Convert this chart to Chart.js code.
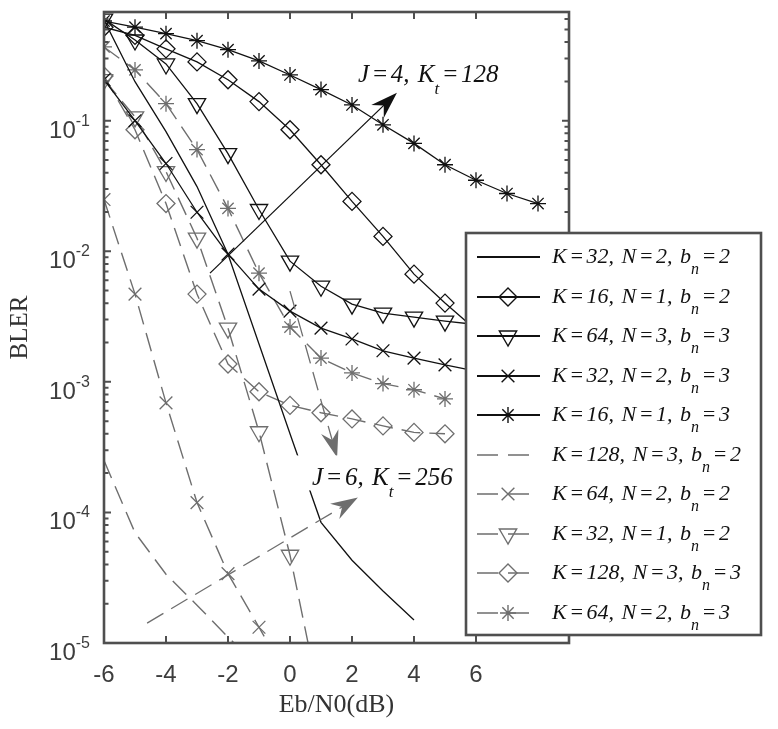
<!DOCTYPE html>
<html><head><meta charset="utf-8">
<script src="https://cdn.jsdelivr.net/npm/chart.js@4.4.0/dist/chart.umd.min.js"></script>
<style>html,body{margin:0;padding:0;background:#fff;}canvas{display:block;}</style>
</head><body>
<canvas id="c" width="778" height="729"></canvas>
<script>
// ---------- data (Eb/N0 in dB, BLER) ----------
const ebn0_K32N2b2 = [-6,-5,-4,-3,-2,-1,0,1,2,3,4];
const bler_K32N2b2 = [0.59,0.199,0.0824,0.0313,0.0095,0.00195,0.0004,8.4e-5,4.3e-5,2.5e-5,1.5e-5];

const ebn0_K16N1b2 = [-6,-5,-4,-3,-2,-1,0,1,2,3,4,5,6];
const bler_K16N1b2 = [0.52,0.45,0.355,0.282,0.206,0.140,0.0853,0.046,0.0241,0.0130,0.00668,0.00401,0.0025];

const ebn0_K64N3b3 = [-6,-5,-4,-3,-2,-1,0,1,2,3,4,5,6];
const bler_K64N3b3 = [0.60,0.415,0.272,0.135,0.056,0.0209,0.0084,0.0054,0.00394,0.00336,0.00313,0.00292,0.00275];

const ebn0_K32N2b3 = [-6,-5,-4,-3,-2,-1,0,1,2,3,4,5,6];
const bler_K32N2b3 = [0.206,0.10,0.047,0.0199,0.0095,0.00513,0.00348,0.00258,0.00213,0.00173,0.00152,0.00135,0.00121];

const ebn0_K16N1b3 = [-6,-5,-4,-3,-2,-1,0,1,2,3,4,5,6,7,8];
const bler_K16N1b3 = [0.58,0.52,0.464,0.41,0.35,0.287,0.224,0.173,0.132,0.093,0.067,0.046,0.035,0.0277,0.0232];

const ebn0_K128N3b2 = [-6,-5,-4,-3,-2,-1];
const bler_K128N3b2 = [2.5e-4,7.0e-5,3.36e-5,1.95e-5,1.11e-5,6.5e-6];

const ebn0_K64N2b2 = [-6,-5,-4,-3,-2,-1,0];
const bler_K64N2b2 = [0.0249,0.0047,0.00069,1.19e-4,3.4e-5,1.32e-5,5e-6];

const ebn0_K32N1b2 = [-6,-5,-4,-3,-2,-1,0,1];
const bler_K32N1b2 = [0.206,0.107,0.0408,0.0126,0.00258,0.000415,4.7e-5,3.3e-6];

const ebn0_K128N3b3 = [-6,-5,-4,-3,-2,-1,0,1,2,3,4,5];
const bler_K128N3b3 = [0.22,0.0853,0.0232,0.0047,0.00137,0.00084,0.00066,0.00058,0.00052,0.00046,0.00041,0.0004];

const ebn0_K64N2b3 = [-6,-5,-4,-3,-2,-1,0,1,2,3,4,5];
const bler_K64N2b3 = [0.367,0.245,0.135,0.0601,0.0213,0.0068,0.00263,0.00152,0.00117,0.00097,0.00087,0.00074];

const legendLabels = ['K=32, N=2, b_n=2','K=16, N=1, b_n=2','K=64, N=3, b_n=3','K=32, N=2, b_n=3','K=16, N=1, b_n=3',
                      'K=128, N=3, b_n=2','K=64, N=2, b_n=2','K=32, N=1, b_n=2','K=128, N=3, b_n=3','K=64, N=2, b_n=3'];
const xTicks = [-6,-4,-2,0,2,4,6];
const yTickExps = [-5,-4,-3,-2,-1];
const xTitle = 'Eb/N0(dB)';
const yTitle = 'BLER';
// annotations in data units
const annotations = [
  {text:'J=4, K_t=128', x:2.19, y:0.199, color:'#111', bg:false},
  {text:'J=6, K_t=256', x:0.71, y:1.61e-4, color:'#111', bg:true}
];
const arrows = [
  {x1:-2.58, y1:6.8e-3, x2:3.45, y2:0.164, color:'#111', dashed:false},
  {x1:-4.61, y1:1.42e-5, x2:2.19, y2:1.30e-4, color:'#6e6e6e', dashed:true},
  {x1:0.0, y1:4.95e-3, x2:1.52, y2:2.63e-4, color:'#6e6e6e', dashed:true}
];

// ---------- styles ----------
const BLACK = '#111111', GRAY = '#6e6e6e';
const DASH = [19,9];
function ds(i, xs, ys, color, style, radius, rotation, dashed){
  return {
    label: legendLabels[i],
    data: xs.map((x,k)=>({x:x, y:ys[k]})),
    borderColor: color, borderWidth: dashed?1.4:1.3,
    borderDash: dashed?DASH:[],
    pointStyle: style || 'circle', pointRadius: style?radius:0, pointHoverRadius: 0,
    pointRotation: rotation||0,
    pointBorderColor: color, pointBackgroundColor: 'rgba(0,0,0,0)', pointBorderWidth: 1.3,
    fill:false, tension:0, showLine:true, order: i
  };
}
const datasets = [
  ds(0, ebn0_K32N2b2, bler_K32N2b2, BLACK, null, 0, 0, false),
  ds(1, ebn0_K16N1b2, bler_K16N1b2, BLACK, 'rectRot', 9, 0, false),
  ds(2, ebn0_K64N3b3, bler_K64N3b3, BLACK, 'triangle', 10, 180, false),
  ds(3, ebn0_K32N2b3, bler_K32N2b3, BLACK, 'crossRot', 9, 0, false),
  ds(4, ebn0_K16N1b3, bler_K16N1b3, BLACK, 'star', 8, 0, false),
  ds(5, ebn0_K128N3b2, bler_K128N3b2, GRAY, null, 0, 0, true),
  ds(6, ebn0_K64N2b2, bler_K64N2b2, GRAY, 'crossRot', 9, 0, true),
  ds(7, ebn0_K32N1b2, bler_K32N1b2, GRAY, 'triangle', 10, 180, true),
  ds(8, ebn0_K128N3b3, bler_K128N3b3, GRAY, 'rectRot', 9, 0, true),
  ds(9, ebn0_K64N2b3, bler_K64N2b3, GRAY, 'star', 8, 0, true)
];

// ---------- helpers ----------
const SERIF = '"Liberation Serif","Times New Roman",serif';
const SANS = '"Liberation Sans",Arial,Helvetica,sans-serif';
function parseRich(t){
  const i = t.indexOf('_');
  if (i<0) return [{s:t}];
  return [{s:t.slice(0,i)},{s:t[i+1],sub:true},{s:t.slice(i+2)}];
}
function drawRich(ctx, x, y, text, size, subSize, subDy, eqPad, spPad){
  const parts = parseRich(text);
  let cx = x;
  for (const p of parts){
    if (p.sub){
      ctx.font = 'italic '+subSize+'px '+SERIF;
      ctx.fillText(p.s, cx, y+subDy);
      cx += ctx.measureText(p.s).width;
    } else {
      ctx.font = 'italic '+size+'px '+SERIF;
      for (const ch of p.s){
        if (ch==='=') cx += eqPad;
        ctx.fillText(ch, cx, y);
        cx += ctx.measureText(ch).width;
        if (ch==='=') cx += eqPad;
        if (ch===' ') cx += spPad;
      }
    }
  }
  return cx;
}
function arrowDraw(ctx, a, xs, ys){
  const x1=xs.getPixelForValue(a.x1), y1=ys.getPixelForValue(a.y1);
  const x2=xs.getPixelForValue(a.x2), y2=ys.getPixelForValue(a.y2);
  const L=27, W=9;
  const dx=x2-x1, dy=y2-y1, len=Math.hypot(dx,dy), ux=dx/len, uy=dy/len, nx=-uy, ny=ux;
  ctx.save();
  ctx.strokeStyle=a.color; ctx.fillStyle=a.color; ctx.lineWidth=1.3;
  ctx.setLineDash(a.dashed?DASH:[]);
  ctx.beginPath(); ctx.moveTo(x1,y1); ctx.lineTo(x2-ux*L*0.6, y2-uy*L*0.6); ctx.stroke();
  ctx.setLineDash([]);
  ctx.beginPath(); ctx.moveTo(x2,y2);
  ctx.lineTo(x2-ux*L+nx*W, y2-uy*L+ny*W);
  ctx.lineTo(x2-ux*L*0.68, y2-uy*L*0.68);
  ctx.lineTo(x2-ux*L-nx*W, y2-uy*L-ny*W);
  ctx.closePath(); ctx.fill();
  ctx.restore();
}

const decor = {
  id:'decor',
  afterDatasetsDraw(chart){
    const ctx = chart.ctx, a = chart.chartArea, xs = chart.scales.x, ys = chart.scales.y;
    ctx.save();
    // arrows
    for (const ar of arrows) arrowDraw(ctx, ar, xs, ys);
    // annotation texts
    ctx.textBaseline='alphabetic'; ctx.textAlign='left';
    for (const an of annotations){
      const px = xs.getPixelForValue(an.x), py = ys.getPixelForValue(an.y);
      if (an.bg){
        ctx.fillStyle='#fff';
        ctx.fillRect(px-16, py-30, 166, 35);
      }
      ctx.fillStyle = an.color;
      drawRich(ctx, px, py, an.text, 25, 17, 12, 2.5, 2);
    }
    // frame
    const AX = '#4f4f4f';
    ctx.strokeStyle = AX; ctx.lineWidth = 2.6; ctx.setLineDash([]);
    ctx.strokeRect(a.left, a.top, a.right-a.left, a.bottom-a.top);
    // ticks
    ctx.lineWidth = 2;
    ctx.beginPath();
    for (const t of xTicks){
      const px = xs.getPixelForValue(t);
      ctx.moveTo(px, a.bottom); ctx.lineTo(px, a.bottom-7);
      ctx.moveTo(px, a.top); ctx.lineTo(px, a.top+7);
    }
    for (let e=-5; e<=0; e++){
      for (let m=1; m<=9; m++){
        const v = m*Math.pow(10,e);
        if (v < ys.min*0.999 || v > ys.max) continue;
        const py = ys.getPixelForValue(v);
        const len = m===1?7:4.5;
        ctx.moveTo(a.left, py); ctx.lineTo(a.left+len, py);
        ctx.moveTo(a.right, py); ctx.lineTo(a.right-len, py);
      }
    }
    ctx.stroke();
    // tick labels
    ctx.fillStyle = '#3d3d3d';
    ctx.textAlign='center';
    ctx.font = '24px '+SANS;
    for (const t of xTicks){
      ctx.fillText(String(t), xs.getPixelForValue(t), a.bottom+39);
    }
    ctx.textAlign='left';
    for (const e of yTickExps){
      const py = ys.getPixelForValue(Math.pow(10,e));
      ctx.font = '16px '+SANS;
      const sup = String(e);
      const ws = ctx.measureText(sup).width;
      ctx.font = '24px '+SANS;
      const w10 = ctx.measureText('10').width;
      const xe = 90;
      ctx.fillText('10', xe-ws-w10, py+17);
      ctx.font = '16px '+SANS;
      ctx.fillText(sup, xe-ws, py+5);
    }
    // axis titles
    ctx.fillStyle = '#333';
    ctx.font = '26px '+SERIF;
    ctx.textAlign='center';
    ctx.fillText(xTitle, (a.left+a.right)/2, 712);
    ctx.save();
    ctx.translate(27, (a.top+a.bottom)/2);
    ctx.rotate(-Math.PI/2);
    ctx.font = '25px '+SERIF;
    ctx.fillText(yTitle, 0, 0);
    ctx.restore();
    // legend
    const LX0=466, LY0=233, LX1=761, LY1=635;
    ctx.fillStyle='#fff';
    ctx.fillRect(LX0, LY0, LX1-LX0, LY1-LY0);
    ctx.strokeStyle=AX; ctx.lineWidth=2.6;
    ctx.strokeRect(LX0, LY0, LX1-LX0, LY1-LY0);
    chart.data.datasets.forEach((d,i)=>{
      const cy = Math.round(257 + i*39.5);
      const gray = d.borderDash && d.borderDash.length>0;
      ctx.save();
      ctx.strokeStyle = d.borderColor; ctx.lineWidth = gray?1.6:1.8;
      ctx.setLineDash(gray?[21,10]:[]);
      ctx.beginPath(); ctx.moveTo(477, cy); ctx.lineTo(gray?531:540, cy); ctx.stroke();
      ctx.setLineDash([]);
      if (d.pointRadius>0){
        ctx.strokeStyle = d.pointBorderColor; ctx.fillStyle='rgba(0,0,0,0)'; ctx.lineWidth=1.4;
        Chart.helpers.drawPoint(ctx, {pointStyle:d.pointStyle, radius:d.pointRadius, rotation:d.pointRotation, borderWidth:1.4}, 508, cy);
      }
      ctx.restore();
      ctx.fillStyle='#111'; ctx.textAlign='left';
      drawRich(ctx, 552, cy+6, d.label, 22, 16, 11, 2.5, 2);
    });
    ctx.restore();
  }
};

new Chart(document.getElementById('c'), {
  type:'line',
  data:{datasets: datasets},
  options:{
    responsive:false, animation:false, devicePixelRatio:1,
    layout:{padding:{left:104, right:209, top:12, bottom:86}},
    plugins:{legend:{display:false}, tooltip:{enabled:false}, title:{display:false}},
    scales:{
      x:{type:'linear', min:-6, max:9, display:false},
      y:{type:'logarithmic', min:1e-5, max:0.68, display:false}
    }
  },
  plugins:[decor]
});
</script>
</body></html>
